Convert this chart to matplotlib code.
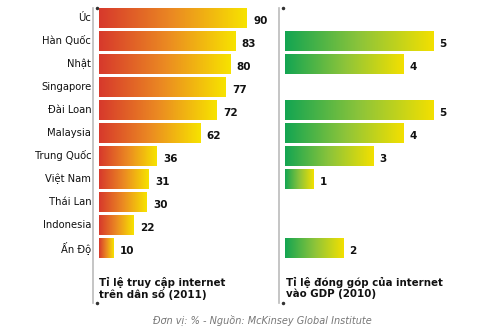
import matplotlib
matplotlib.use("Agg")
import matplotlib.pyplot as plt
import numpy as np
from matplotlib.colors import LinearSegmentedColormap

countries = ["Úc", "Hàn Quốc", "Nhật", "Singapore", "Đài Loan", "Malaysia",
             "Trung Quốc", "Việt Nam", "Thái Lan", "Indonesia", "Ấn Độ"]
access = [90, 83, 80, 77, 72, 62, 36, 31, 30, 22, 10]
gdp = [None, 5, 4, None, 5, 4, 3, 1, None, None, 2]

title_left = "Tỉ lệ truy cập internet\ntrên dân số (2011)"
title_right = "Tỉ lệ đóng góp của internet\nvào GDP (2010)"
footer = "Đơn vị: % - Nguồn: McKinsey Global Institute"

W, H = 500, 330
cond = dict(family="DejaVu Sans", stretch="condensed")

red_cmap = LinearSegmentedColormap.from_list("ry", ["#d7392c", "#eb8a22", "#f7e300"])
green_cmap = LinearSegmentedColormap.from_list("gy", ["#13a552", "#8cc43a", "#f3e000"])

fig = plt.figure(figsize=(W / 100, H / 100), dpi=100)
fig.patch.set_facecolor("white")

row_h = 23.0
top_px, bot_px = 8, 303
ylim = ((bot_px - 18) / row_h, -(18 - top_px) / row_h)
bar_h = 19.5 / row_h


def make_axes(left_px, width_px, xmax):
    ax = fig.add_axes([left_px / W, 1 - bot_px / H, width_px / W, (bot_px - top_px) / H])
    ax.set_xlim(-0.02 * xmax, xmax)
    ax.set_ylim(*ylim)
    for s in ["top", "right", "bottom"]:
        ax.spines[s].set_visible(False)
    ax.spines["left"].set_color("#bbbbbb")
    ax.spines["left"].set_linewidth(1.2)
    ax.set_xticks([])
    ax.set_yticks([])
    ax.patch.set_alpha(0)
    ax.plot([0, 0], [ylim[0], ylim[1]], "o", color="#333333", ms=1.5, clip_on=False)
    return ax


def grad_bars(ax, values, cmap, pad):
    grad = np.linspace(0, 1, 256).reshape(1, -1)
    for i, v in enumerate(values):
        if v is None:
            continue
        ax.imshow(grad, extent=[0.3 * pad, v, i + bar_h / 2, i - bar_h / 2],
                  cmap=cmap, aspect="auto", interpolation="bilinear", zorder=2)
        ax.text(v + pad, i + 0.12, str(v), ha="left", va="center",
                fontsize=7.5, fontweight="bold", color="#111111")
    ax.set_xlim(*ax.get_xlim())
    ax.set_ylim(*ylim)


# left panel: internet access
axl = make_axes(93, 180, 180 / 1.70)
grad_bars(axl, access, red_cmap, 4.2)
for i, c in enumerate(countries):
    axl.text(-3.2, i, c, ha="right", va="center", fontsize=8,
             color="#111111", **cond)
axl.text(1.5, 11.75, title_left, ha="left", va="center", fontsize=8.2,
         fontweight="bold", linespacing=1.05, color="#111111", **cond)

# right panel: contribution to GDP
axr = make_axes(279, 200, 200 / 30.6)
grad_bars(axr, gdp, green_cmap, 0.22)
axr.text(0.1, 11.75, title_right, ha="left", va="center", fontsize=8.2,
         fontweight="bold", linespacing=1.05, color="#111111", **cond)

fig.text(262 / W, 1 - 320 / H, footer, ha="center", va="center", fontsize=7,
         style="italic", color="#777777")

fig.savefig("out.png", dpi=100, facecolor="white")
